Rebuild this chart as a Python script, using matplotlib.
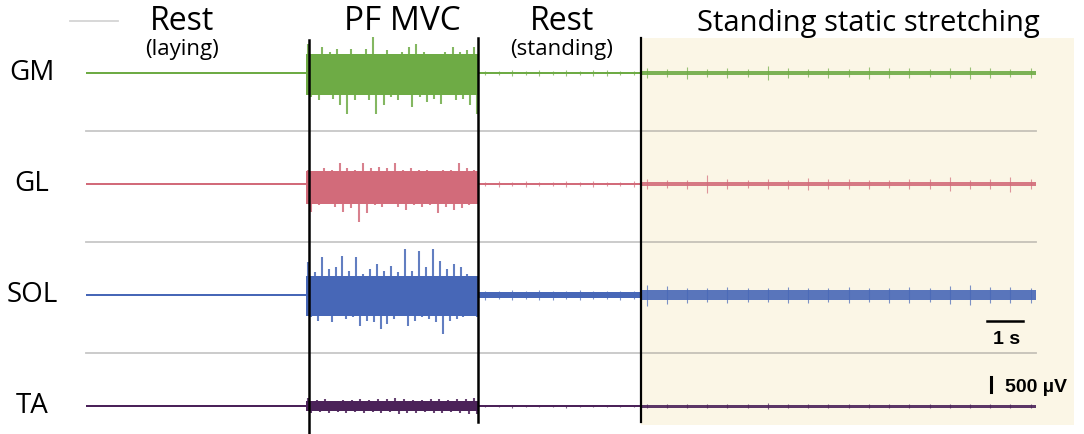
import numpy as np
import matplotlib
matplotlib.use("Agg")
import matplotlib.pyplot as plt

# ---------------- data ----------------
muscles = ["GM", "GL", "SOL", "TA"]
colors = ["#6EAB45", "#D26B7A", "#4767B7", "#4B2259"]
channel_offset_uv = [0, -3700, -7400, -11100]

phase_titles = ["Rest", "PF MVC", "Rest", "Standing static stretching"]
phase_subtitles = ["(laying)", "", "(standing)", ""]
phase_edges_s = [0.0, 6.10, 10.89, 15.42, 26.39]   # trace time (s)
divider_s = [6.19, 10.89, 15.42]

# amplitude of the quiet bands (half height, microvolts)
rest_laying_amp = [30, 30, 30, 30]
rest_standing_amp = [45, 45, 90, 30]
stretch_amp = [75, 80, 170, 50]

# MVC: dense body of the burst (up / down, microvolts)
mvc_body_up = [620, 430, 620, 170]
mvc_body_dn = [720, 650, 700, 180]

# MVC peaks (microvolts), left to right
gm_mvc_up = [977, 644, 866, 700, 810, 533, 810, 644, 810, 1200, 644, 755,
             477, 700, 866, 977, 700, 644, 588, 700, 866, 700, 755, 866]
gm_mvc_dn = [800, 910, 690, 855, 1077, 1354, 910, 744, 910, 1354, 1077, 800,
             910, 744, 1132, 800, 966, 855, 1021, 744, 910, 855, 1077, 1354]
gl_mvc_up = [466, 411, 522, 466, 688, 522, 466, 710, 522, 577, 522, 688,
             466, 522, 466, 466, 411, 466, 466, 710, 522, 466]
gl_mvc_dn = [921, 700, 644, 755, 921, 810, 1254, 977, 700, 755, 644, 755,
             866, 700, 755, 700, 977, 755, 866, 810, 700, 644]
sol_mvc_up = [1088, 755, 1254, 866, 921, 1310, 810, 1254, 700, 866, 1032, 810,
              977, 755, 1532, 810, 1476, 921, 1532, 1143, 866, 1032, 921, 700, 644]
sol_mvc_dn = [744, 855, 688, 910, 577, 799, 744, 1021, 855, 910, 1132, 966,
              799, 688, 1021, 855, 744, 799, 910, 1299, 855, 799, 744, 688, 744]
ta_mvc_up = [260, 200, 220, 180, 210, 200, 230, 190, 250, 220, 270, 230,
             210, 200, 240, 220, 200, 250, 230, 260]
ta_mvc_dn = [240, 210, 230, 200, 220, 190, 240, 210, 230, 200, 250, 220,
             230, 210, 220, 240, 210, 230, 250, 270]

# peaks during standing rest (microvolts)
gm_stand_pk = [80, 70, 95, 80, 90, 70, 100, 80, 90, 95, 80, 70]
gl_stand_pk = [80, 95, 70, 90, 80, 70, 90, 80, 95, 80, 70, 85]
sol_stand_pk = [150, 130, 170, 140, 180, 150, 130, 160, 140, 130, 150, 140]
ta_stand_pk = [45, 40, 50, 45, 40, 45, 50, 40, 45, 45, 40, 45]

# peaks during standing static stretching (microvolts)
gm_str_pk = [150, 120, 200, 140, 160, 130, 220, 150, 140, 180, 130, 200,
             150, 170, 140, 160, 190, 150, 130, 160]
gl_str_pk = [160, 140, 150, 300, 160, 140, 180, 150, 200, 160, 170, 150,
             140, 180, 160, 220, 150, 170, 250, 160]
sol_str_pk = [350, 300, 250, 220, 260, 240, 230, 280, 250, 240, 260, 230,
              250, 270, 240, 300, 320, 280, 260, 250]
ta_str_pk = [80, 70, 75, 80, 70, 75, 85, 70, 75, 80, 70, 75,
             80, 70, 75, 80, 70, 75, 80, 70]

mvc_up = [gm_mvc_up, gl_mvc_up, sol_mvc_up, ta_mvc_up]
mvc_dn = [gm_mvc_dn, gl_mvc_dn, sol_mvc_dn, ta_mvc_dn]
stand_pk = [gm_stand_pk, gl_stand_pk, sol_stand_pk, ta_stand_pk]
str_pk = [gm_str_pk, gl_str_pk, sol_str_pk, ta_str_pk]

time_bar_s = 1.0
amp_bar_uv = 500

# ---------------- figure ----------------
W, H = 1084, 434
fig = plt.figure(figsize=(W / 100, H / 100), dpi=100)
ax = fig.add_axes([0, 0, 1, 1])
PX_PER_S = 36.0
UV_PER_PX = 33.333
x0_px, y0_px = 86, 73
ax.set_xlim(-x0_px / PX_PER_S, (W - x0_px) / PX_PER_S)
ax.set_ylim(-(H - y0_px) * UV_PER_PX, y0_px * UV_PER_PX)
ax.axis("off")

def px_t(px):
    return (px - x0_px) / PX_PER_S

def py_v(py):
    return -(py - y0_px) * UV_PER_PX

t_lay0, t_mvc0, t_std0, t_str0, t_end = phase_edges_s

# stretching background
ax.fill_between([t_str0, px_t(1074)], py_v(425), py_v(38),
                color="#FBF6E6", lw=0, zorder=0)

# grey separators between channels
for i in range(3):
    ymid = (channel_offset_uv[i] + channel_offset_uv[i + 1]) / 2 - 80
    ax.plot([t_lay0, t_end], [ymid, ymid], color=(0.45, 0.45, 0.45),
            alpha=0.4, lw=1.3, zorder=1)
ax.plot([px_t(70), px_t(118)], [py_v(21)] * 2, color=(0.45, 0.45, 0.45),
        alpha=0.3, lw=1.3, zorder=1)

for i, m in enumerate(muscles):
    off = channel_offset_uv[i]
    c = colors[i]
    # rest laying
    a = rest_laying_amp[i]
    ax.fill_between([t_lay0, t_mvc0], off - a, off + a, color=c, lw=0, zorder=2)
    # MVC body + peaks
    ax.fill_between([t_mvc0, t_std0], off - mvc_body_dn[i], off + mvc_body_up[i],
                    color=c, lw=0, zorder=2)
    up = np.array(mvc_up[i]); dn = np.array(mvc_dn[i])
    tu = np.linspace(t_mvc0 + 0.06, t_std0 - 0.10, len(up))
    td = np.linspace(t_mvc0 + 0.16, t_std0 - 0.02, len(dn))
    ax.vlines(tu, off, off + up, color=c, lw=1.5, alpha=0.85, zorder=2)
    ax.vlines(td, off - dn, off, color=c, lw=1.5, alpha=0.85, zorder=2)
    # rest standing
    a = rest_standing_amp[i]
    ax.fill_between([t_std0, t_str0], off - a, off + a, color=c, lw=0, zorder=2)
    pk = np.array(stand_pk[i])
    tp = np.linspace(t_std0 + 0.2, t_str0 - 0.2, len(pk))
    ax.vlines(tp, off - pk, off + pk, color=c, lw=0.8, alpha=0.7, zorder=2)
    # standing static stretching
    a = stretch_amp[i]
    ax.fill_between([t_str0, t_end], off - a, off + a, color=c, lw=0,
                    alpha=0.9, zorder=2)
    pk = np.array(str_pk[i])
    tp = np.linspace(t_str0 + 0.15, t_end - 0.15, len(pk))
    ax.vlines(tp, off - pk, off + pk, color=c, lw=0.8, alpha=0.7, zorder=2)
    # channel label
    ax.text(px_t(32), off, m, ha="center", va="center", fontsize=20,
            family="Open Sans", color="black")

# black dividers
ax.plot([divider_s[0]] * 2, [py_v(40), py_v(434)], color="black", lw=1.8, zorder=4)
ax.plot([divider_s[1]] * 2, [py_v(38), py_v(422)], color="black", lw=1.8, zorder=4)
ax.plot([divider_s[2]] * 2, [py_v(38), py_v(422)], color="black", lw=1.6, zorder=4)

# phase titles
title_x_px = [182, 402, 562, 868]
title_size = [23, 24, 23, 21]
for k in range(4):
    ax.text(px_t(title_x_px[k]), py_v(30.5), phase_titles[k], ha="center",
            va="baseline", fontsize=title_size[k], family="Open Sans",
            color="black")
    if phase_subtitles[k]:
        ax.text(px_t(title_x_px[k]), py_v(55.5), phase_subtitles[k], ha="center",
                va="baseline", fontsize=16, family="Open Sans", color="black")

# scale bars
tb0 = px_t(987)
ax.plot([tb0, tb0 + time_bar_s], [py_v(321)] * 2, color="black", lw=1.8)
ax.text(tb0 + time_bar_s / 2 + 0.05, py_v(344), "1 s", ha="center", va="baseline",
        fontsize=14, fontweight="bold", family="Liberation Sans")
yb = py_v(392)
ax.plot([px_t(991)] * 2, [yb, yb + amp_bar_uv], color="black", lw=2.2)
ax.text(px_t(1005), yb, "500 µV", ha="left", va="baseline",
        fontsize=14, fontweight="bold", family="Liberation Sans")

fig.savefig("out.png", dpi=100)
